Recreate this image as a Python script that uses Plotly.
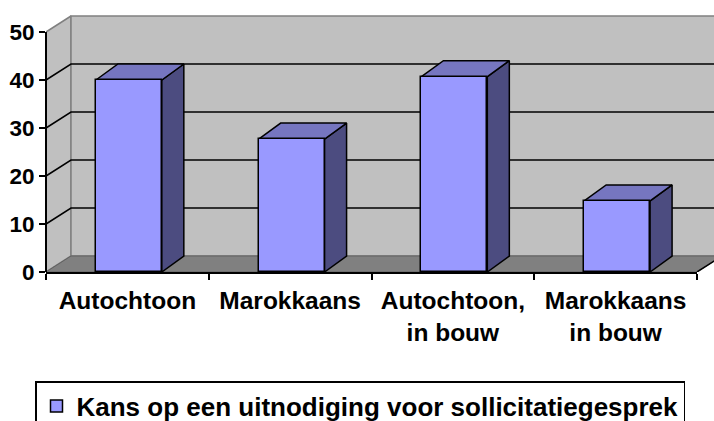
import plotly.graph_objects as go

# ---- data ----
categories = ["Autochtoon", "Marokkaans", "Autochtoon,<br>in bouw", "Marokkaans<br>in bouw"]
values = [40.0, 27.7, 40.7, 14.8]
series_name = "Kans op een uitnodiging voor sollicitatiegesprek"
y_ticks = [0, 10, 20, 30, 40, 50]

# ---- geometry (pixels) ----
W, H = 714, 421
ML, MT = 46, 13
FLOOR_Y = 272            # pixel row of the front floor edge
MB = H - FLOOR_Y
plot_w = W - ML
plot_h = FLOOR_Y - MT
front_w = 651            # width of the front floor edge
n = len(categories)
px_cat = front_w / n
WALL_DX, WALL_DY = 25, 16
BAR_DX = 22
BAR_SHIFT = 1.5          # small rightward nudge of the bars
LEGEND_TOP = 381
y_max = 50
ppu = 4.8                # pixels per value unit

dxw = WALL_DX / px_cat
dyw = WALL_DY / ppu
dxb = BAR_DX / px_cat
shift = BAR_SHIFT / px_cat
x0, x1 = -0.5, n - 0.5
x_end = x0 + plot_w / px_cat
y_end = plot_h / ppu
y_top = y_max + dyw
bar_w = 0.405

FONT = "Liberation Sans, Arial, sans-serif"
WALL = "#C0C0C0"
FLOOR = "#808080"
EDGE = "#808080"
FRONT = "#9999FF"
TOP = "#7676C0"
SIDE = "#4C4C80"

fig = go.Figure()

def poly(xs, ys, fill, line, lw=1.5):
    fig.add_trace(go.Scatter(x=xs, y=ys, mode="lines", fill="toself",
                             fillcolor=fill, line=dict(color=line, width=lw),
                             hoverinfo="skip", showlegend=False))

# side wall
poly([x0, x0 + dxw, x0 + dxw, x0, x0], [0, dyw, y_top, y_max, 0], WALL, EDGE)
# back wall
poly([x0 + dxw, x_end + 1, x_end + 1, x0 + dxw, x0 + dxw],
     [dyw, dyw, y_top, y_top, dyw], WALL, EDGE)

# gridlines: diagonal on the side wall, horizontal on the back wall
gx, gy = [], []
for v in y_ticks[1:-1]:
    gx += [x0, x0 + dxw, x_end + 1, None]
    gy += [v, v + dyw, v + dyw, None]
fig.add_trace(go.Scatter(x=gx, y=gy, mode="lines", line=dict(color="black", width=1.5),
                         hoverinfo="skip", showlegend=False))

# floor
poly([x0, x1, x1 + dxw, x0 + dxw, x0], [0, 0, dyw, dyw, 0], FLOOR, "#606060", 1)
fig.add_trace(go.Scatter(x=[x1, x1 + dxw], y=[0, dyw], mode="lines",
                         line=dict(color="black", width=1.5),
                         hoverinfo="skip", showlegend=False))

# bar side and top faces
sx, sy, tx, ty = [], [], [], []
for i, v in enumerate(values):
    xl, xr = i - bar_w / 2 + shift, i + bar_w / 2 + shift
    sx += [xr, xr + dxb, xr + dxb, xr, xr, None]
    sy += [0, dyw, v + dyw, v, 0, None]
    tx += [xl, xr, xr + dxb, xl + dxb, xl, None]
    ty += [v, v, v + dyw, v + dyw, v, None]
for xs, ys, c in ((sx, sy, SIDE), (tx, ty, TOP)):
    fig.add_trace(go.Scatter(x=xs, y=ys, mode="lines", fill="toself", fillcolor=c,
                             line=dict(color="black", width=1.5),
                             hoverinfo="skip", showlegend=False))

# bar front faces on the category axis
fig.add_trace(go.Bar(x=categories, y=values, width=bar_w, offset=-bar_w / 2 + shift,
                     xaxis="x2", yaxis="y", name=series_name,
                     marker=dict(color=FRONT, line=dict(color="black", width=1.5)),
                     hoverinfo="skip"))

# carrier for the value axis
fig.add_trace(go.Scatter(x=[0], y=[0], xaxis="x", yaxis="y2", mode="markers",
                         marker=dict(opacity=0), hoverinfo="skip", showlegend=False))

fig.update_layout(
    template="none",
    width=W, height=H,
    margin=dict(l=ML, r=0, t=MT, b=MB, pad=0, autoexpand=False),
    paper_bgcolor="white", plot_bgcolor="rgba(0,0,0,0)",
    bargap=0,
    xaxis=dict(range=[x0, x_end], domain=[0, 1], visible=False, fixedrange=True),
    yaxis=dict(range=[0, y_end], domain=[0, 1], visible=False, fixedrange=True),
    xaxis2=dict(type="category", categoryorder="array", categoryarray=categories,
                range=[x0, x1], domain=[0, front_w / plot_w], anchor="y", side="bottom",
                tickson="boundaries", ticks="outside", ticklen=6, tickwidth=1.5, tickcolor="black",
                showline=True, linewidth=2, linecolor="black", showgrid=False, zeroline=False,
                automargin=False, ticklabelstandoff=6,
                tickfont=dict(family=FONT, size=24.5, color="black", weight="bold")),
    yaxis2=dict(range=[0, y_max], domain=[0, y_max * ppu / plot_h], anchor="free", position=0,
                tickvals=y_ticks, ticks="outside", ticklen=6, tickwidth=1.5, tickcolor="black",
                showline=True, linewidth=2, linecolor="black", showgrid=False, zeroline=False,
                automargin=False,
                tickfont=dict(family=FONT, size=22.5, color="black", weight="bold")),
    showlegend=True,
    legend=dict(orientation="h", x=(35 - ML) / plot_w, xanchor="left",
                y=(FLOOR_Y - LEGEND_TOP) / plot_h, yanchor="top",
                bgcolor="white", bordercolor="black", borderwidth=1.5,
                font=dict(family=FONT, size=26, color="black", weight="bold")),
)

fig.write_html("out.html")
